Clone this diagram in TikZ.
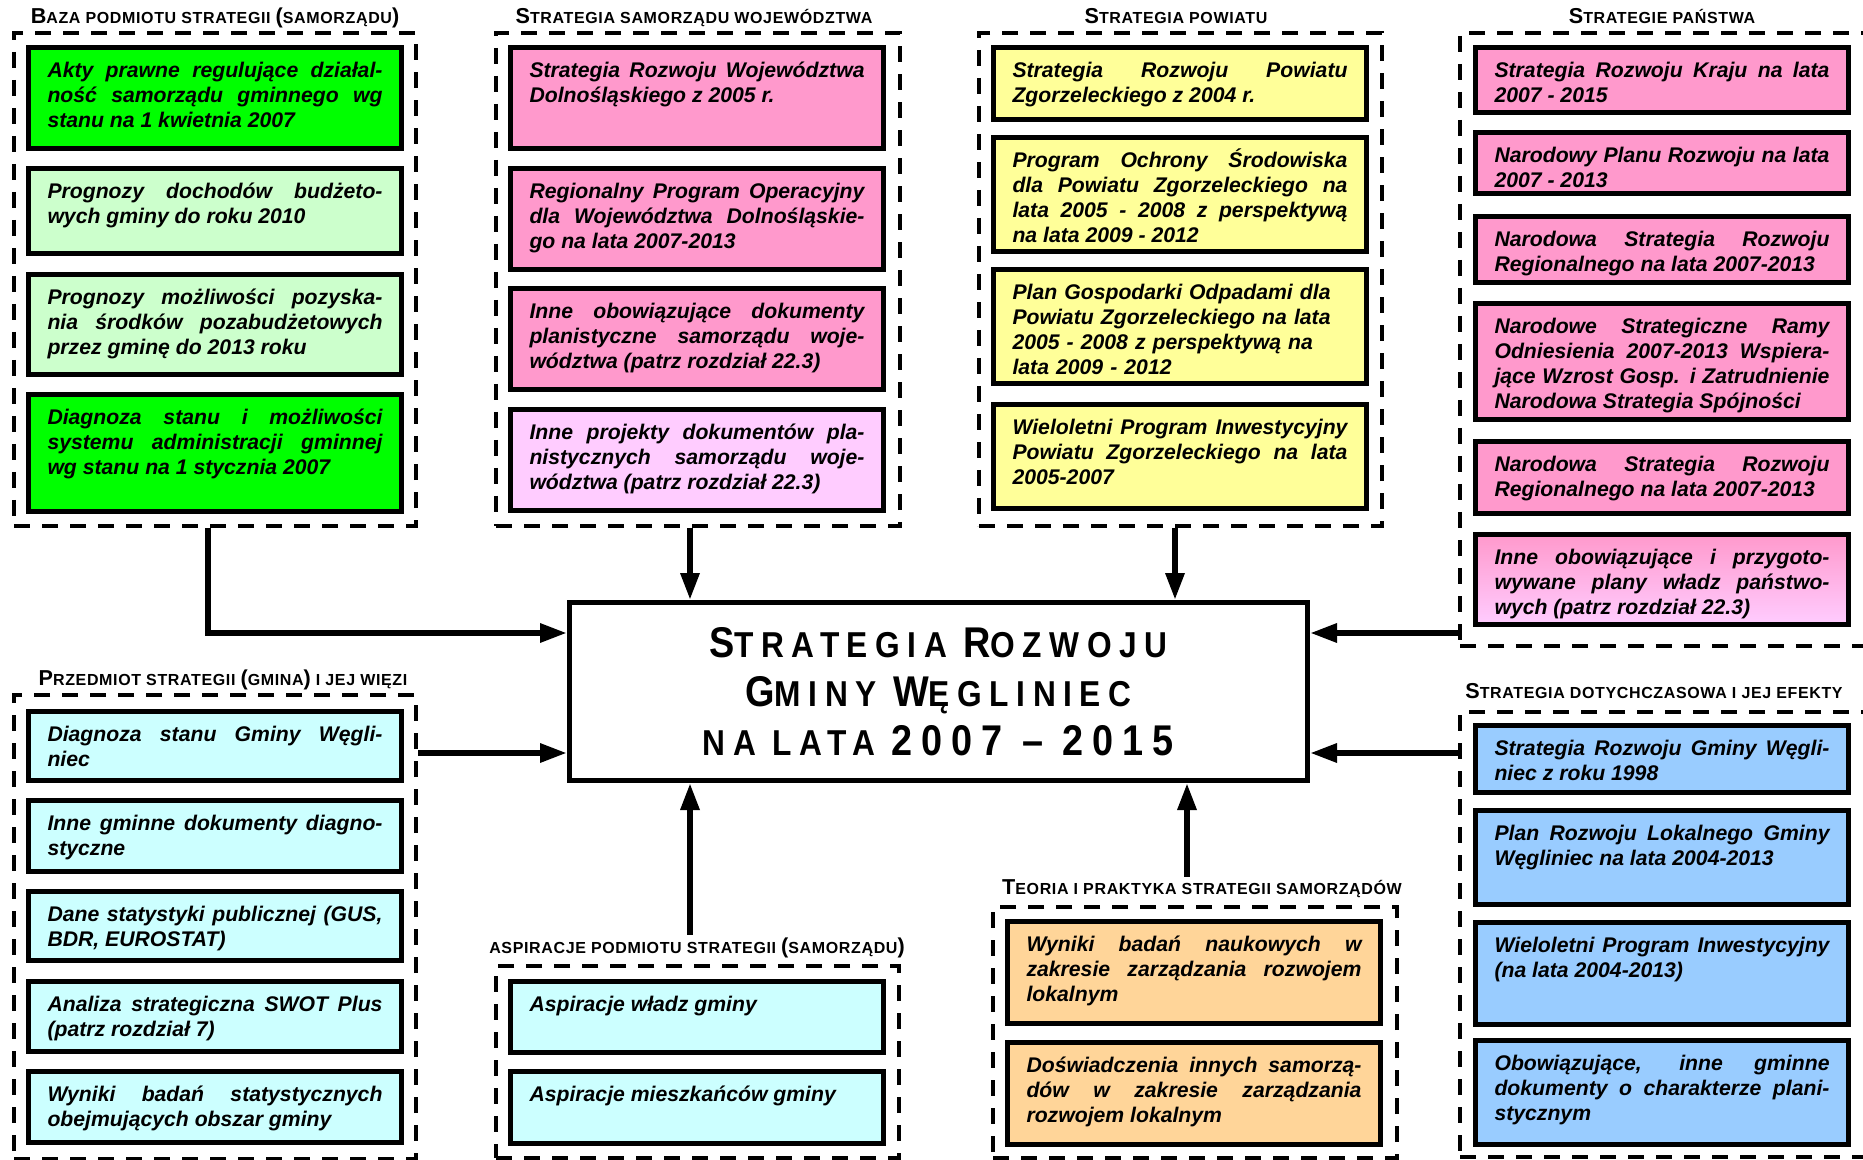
\documentclass[tikz,border=0pt]{standalone}
\usepackage{fontspec}
\usetikzlibrary{arrows.meta,calc}
\newfontfamily\arialf{Liberation Sans}
\newfontfamily\ttlf{Liberation Sans}[LetterSpace=4]
\newfontfamily\mainf{Liberation Sans}[FakeStretch=0.88,LetterSpace=21]
\tolerance=10000 \hbadness=10000 \hyphenpenalty=10000 \exhyphenpenalty=10000
\definecolor{docgreen}{HTML}{00FF00}
\definecolor{docmint}{HTML}{CCFFCC}
\definecolor{docpink}{HTML}{FF99CC}
\definecolor{doclilac}{HTML}{FFCCFF}
\definecolor{docyellow}{HTML}{FFFF99}
\definecolor{doccyan}{HTML}{CCFFFF}
\definecolor{docpeach}{HTML}{FFD599}
\definecolor{docblue}{HTML}{99CCFF}
\newcommand{\Kap}[1]{{\fontsize{10.8}{12}\selectfont #1}}
\newcommand{\KapM}[1]{{\fontsize{21.5}{24.5}\selectfont #1}}
\tikzset{
  doc/.style={draw, line width=2.5pt, anchor=north west, text width=167.5pt,
    inner xsep=9.5pt, inner ysep=0pt, text height=15pt, align=justify,
    font=\arialf\bfseries\itshape\fontsize{10.6}{12.5}\selectfont},
  grp/.style={draw, line width=2pt, dash pattern=on 8pt off 6pt,
    anchor=north west, inner sep=0pt},
  ttl/.style={anchor=base, inner sep=1pt, font=\ttlf\bfseries\fontsize{8}{9}\selectfont},
  mainbox/.style={draw, line width=2.5pt, fill=white, minimum width=369pt,
    minimum height=89pt, align=center,
    font=\mainf\bfseries\fontsize{18}{24.5}\selectfont},
  conn/.style={line width=3pt, -{Triangle[length=13.5pt,width=9pt]}}
}
\begin{document}
\begin{tikzpicture}[x=0.5pt, y=-0.5pt]
      \useasboundingbox (0,0) rectangle (1863,1160);
      \clip (0,0) rectangle (1863,1160);
      \fill[white] (0,0) rectangle (1863,1160);
      %
      \node[grp, minimum width=201pt, minimum height=246.5pt] (baza) at (12,31) {};     % frames
      \node[grp, minimum width=202pt, minimum height=246.5pt] (wojew) at (494,31) {};
      \node[grp, minimum width=201.5pt, minimum height=246.5pt] (powiat) at (977,31) {};
      \node[grp, minimum width=210pt, minimum height=306.5pt] (panstwo) at (1458,31) {};
      \node[grp, minimum width=201pt, minimum height=232pt] (gmina) at (12,693) {};
      \node[grp, minimum width=201.5pt, minimum height=96pt] (aspir) at (494,964) {};
      \node[grp, minimum width=202pt, minimum height=125.5pt] (teoria) at (991,905) {};
      \node[grp, minimum width=210pt, minimum height=222.5pt] (efekty) at (1458,710) {};
      %
      \node[ttl] (t1) at (215,24) {\Kap{B}AZA PODMIOTU STRATEGII \Kap{(}SAMORZĄDU\Kap{)}};   % titles
      \node[ttl] (t2) at (694,24) {\Kap{S}TRATEGIA SAMORZĄDU WOJEWÓDZTWA};
      \node[ttl] (t3) at (1176,24) {\Kap{S}TRATEGIA POWIATU};
      \node[ttl] (t4) at (1662,24) {\Kap{S}TRATEGIE PAŃSTWA};
      \node[ttl] (t5) at (223,685) {\Kap{P}RZEDMIOT STRATEGII \Kap{(}GMINA\Kap{)} I JEJ WIĘZI};
      \node[ttl] (t6) at (697,953) {ASPIRACJE PODMIOTU STRATEGII \Kap{(}SAMORZĄDU\Kap{)}};
      \node[ttl] (t7) at (1202,894) {\Kap{T}EORIA I PRAKTYKA STRATEGII SAMORZĄDÓW};
      \node[ttl] (t8) at (1654,698) {\Kap{S}TRATEGIA DOTYCHCZASOWA I JEJ EFEKTY};
      %
      \node[doc, fill=docgreen, text depth=35.5pt] (baza1) at (26,45)
        {Akty prawne regulujące działal-\linebreak ność samorządu gminnego wg\linebreak stanu na 1 kwietnia 2007};
      \node[doc, fill=docmint, text depth=27.5pt] (baza2) at (26,166)
        {Prognozy dochodów budżeto-\linebreak wych gminy do roku 2010};
      \node[doc, fill=docmint, text depth=35pt] (baza3) at (26,272)
        {Prognozy możliwości pozyska-\linebreak nia środków pozabudżetowych\linebreak przez gminę do 2013 roku};
      \node[doc, fill=docgreen, text depth=43.5pt] (baza4) at (26,392)
        {Diagnoza stanu i możliwości\linebreak systemu administracji gminnej\linebreak wg stanu na 1 stycznia 2007};
      %%
      \node[doc, fill=docpink, text depth=35.5pt] (wojew1) at (508,45)
        {Strategia Rozwoju Województwa\linebreak Dolnośląskiego z 2005 r.};
      \node[doc, fill=docpink, text depth=35.5pt] (wojew2) at (508,166)
        {Regionalny Program Operacyjny\linebreak dla Województwa Dolnośląskie-\linebreak go na lata 2007-2013};
      \node[doc, fill=docpink, text depth=35.5pt] (wojew3) at (508,286)
        {Inne obowiązujące dokumenty\linebreak planistyczne samorządu woje-\linebreak wództwa (patrz rozdział 22.3)};
      \node[doc, fill=doclilac, text depth=35.5pt] (wojew4) at (508,407)
        {Inne projekty dokumentów pla-\linebreak nistycznych samorządu woje-\linebreak wództwa (patrz rozdział 22.3)};
      %%
      \node[doc, fill=docyellow, text depth=21pt] (powiat1) at (991,45)
        {Strategia Rozwoju Powiatu\linebreak Zgorzeleckiego z 2004 r.};
      \node[doc, fill=docyellow, text depth=42pt] (powiat2) at (991,135)
        {Program Ochrony Środowiska\linebreak dla Powiatu Zgorzeleckiego na\linebreak lata 2005 - 2008 z perspektywą\linebreak na lata 2009 - 2012};
      \node[doc, fill=docyellow, text depth=42pt, align=left] (powiat3) at (991,267)
        {Plan Gospodarki Odpadami dla\\Powiatu Zgorzeleckiego na lata\\2005 - 2008 z perspektywą na\\lata 2009 - 2012};
      \node[doc, fill=docyellow, text depth=37pt] (powiat4) at (991,402)
        {Wieloletni Program Inwestycyjny\linebreak Powiatu Zgorzeleckiego na lata\linebreak 2005-2007};
      %%
      \node[doc, fill=docpink, text depth=17.5pt] (panstwo1) at (1473,45)
        {Strategia Rozwoju Kraju na lata\linebreak 2007 - 2015};
      \node[doc, fill=docpink, text depth=15.5pt] (panstwo2) at (1473,130)
        {Narodowy Planu Rozwoju na lata\linebreak 2007 - 2013};
      \node[doc, fill=docpink, text depth=18pt] (panstwo3) at (1473,214)
        {Narodowa Strategia Rozwoju\linebreak Regionalnego na lata 2007-2013};
      \node[doc, fill=docpink, text depth=43pt] (panstwo4) at (1473,301)
        {Narodowe Strategiczne Ramy\linebreak Odniesienia 2007-2013 Wspiera-\linebreak jące Wzrost Gosp. i Zatrudnienie\linebreak Narodowa Strategia Spójności};
      \node[doc, fill=docpink, text depth=21pt] (panstwo5) at (1473,439)
        {Narodowa Strategia Rozwoju\linebreak Regionalnego na lata 2007-2013};
      \node[doc, top color=docpink, bottom color=doclilac, text depth=30pt] (panstwo6) at (1473,532)
        {Inne obowiązujące i przygoto-\linebreak wywane plany władz państwo-\linebreak wych (patrz rozdział 22.3)};
      %%
      \node[doc, fill=doccyan, text depth=19.5pt] (gmina1) at (26,709)
        {Diagnoza stanu Gminy Węgli-\linebreak niec};
      \node[doc, fill=doccyan, text depth=20.5pt] (gmina2) at (26,798)
        {Inne gminne dokumenty diagno-\linebreak styczne};
      \node[doc, fill=doccyan, text depth=19.5pt] (gmina3) at (26,889)
        {Dane statystyki publicznej (GUS,\linebreak BDR, EUROSTAT)};
      \node[doc, fill=doccyan, text depth=20pt] (gmina4) at (26,979)
        {Analiza strategiczna SWOT Plus\linebreak (patrz rozdział 7)};
      \node[doc, fill=doccyan, text depth=20.5pt] (gmina5) at (26,1069)
        {Wyniki badań statystycznych\linebreak obejmujących obszar gminy};
      %%
      \node[doc, fill=doccyan, text depth=20.5pt] (aspir1) at (508,979) {Aspiracje władz gminy};
      \node[doc, fill=doccyan, text depth=21pt] (aspir2) at (508,1069) {Aspiracje mieszkańców gminy};
      %%
      \node[doc, fill=docpeach, text depth=36pt] (teoria1) at (1005,919)
        {Wyniki badań naukowych w\linebreak zakresie zarządzania rozwojem\linebreak lokalnym};
      \node[doc, fill=docpeach, text depth=36pt] (teoria2) at (1005,1040)
        {Doświadczenia innych samorzą-\linebreak dów w zakresie zarządzania\linebreak rozwojem lokalnym};
      %%
      \node[doc, fill=docblue, text depth=18.5pt] (efekty1) at (1473,723)
        {Strategia Rozwoju Gminy Węgli-\linebreak niec z roku 1998};
      \node[doc, fill=docblue, text depth=32pt] (efekty2) at (1473,808)
        {Plan Rozwoju Lokalnego Gminy\linebreak Węgliniec na lata 2004-2013};
      \node[doc, fill=docblue, text depth=36pt] (efekty3) at (1473,920)
        {Wieloletni Program Inwestycyjny\linebreak (na lata 2004-2013)};
      \node[doc, fill=docblue, text depth=37pt] (efekty4) at (1473,1038)
        {Obowiązujące, inne gminne\linebreak dokumenty o charakterze plani-\linebreak stycznym};
      %
      \node[mainbox] (main) at (938.5,691.5)                  % central box
        {\KapM{S}TRATEGIA \KapM{R}OZWOJU\\\KapM{G}MINY \KapM{W}ĘGLINIEC\\NA LATA \KapM{2007 – 2015}};
      %
      \coordinate (pN1) at ($(main.north)+(-248.5,0)$);      % ports
      \coordinate (pN2) at ($(main.north)+(236.5,0)$);
      \coordinate (pS1) at ($(main.south)+(-248.5,0)$);
      \coordinate (pS2) at ($(main.south)+(248.5,0)$);
      \coordinate (pW1) at ($(main.west)+(0,-58.5)$);
      \coordinate (pW2) at ($(main.west)+(0,61.5)$);
      \coordinate (pE1) at ($(main.east)+(0,-58.5)$);
      \coordinate (pE2) at ($(main.east)+(0,61.5)$);
      %
      \draw[conn] ([xshift=-3.5pt]baza.south) |- (pW1);       % connectors
      \draw[conn] (wojew.south -| pN1) -- (pN1);
      \draw[conn] (powiat.south -| pN2) -- (pN2);
      \draw[conn] (panstwo.west |- pE1) -- (pE1);
      \draw[conn] (gmina.east |- pW2) -- (pW2);
      \draw[conn] (t6.north -| pS1) -- (pS1);
      \draw[conn] (t7.north -| pS2) -- (pS2);
      \draw[conn] (efekty.west |- pE2) -- (pE2);
      %
    \end{tikzpicture}
\end{document}
